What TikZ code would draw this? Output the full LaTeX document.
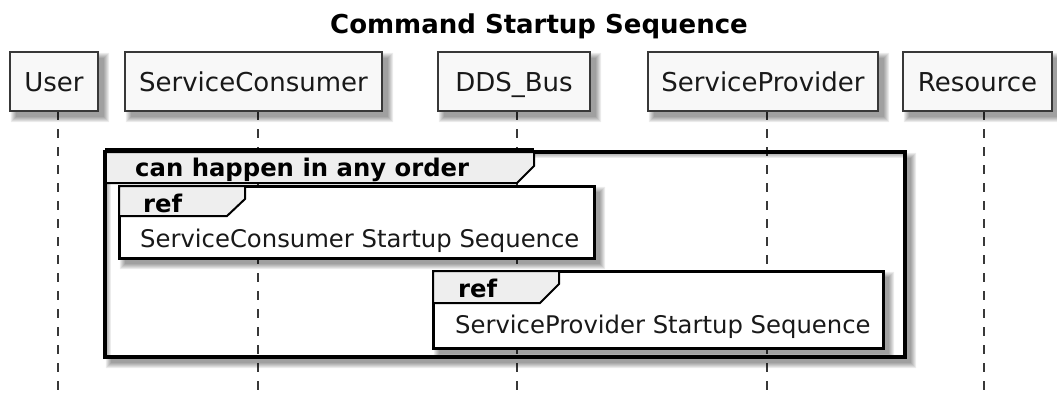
\documentclass[tikz,border=0pt]{standalone}
\usepackage{fontspec}
\setmainfont{DejaVu Sans}
\definecolor{partfill}{HTML}{F8F8F8}
\definecolor{partline}{HTML}{383838}
\definecolor{tabfill}{HTML}{EEEEEE}
\newcommand\softshadowof[1]{%
  \foreach \k in {0,1,2,3,4,5}{%
    \fill[black, opacity=0.075, even odd rule]
      ([shift={(6-\k,6-\k)}]#1.north west) rectangle ([shift={(6+\k,6+\k)}]#1.south east)
      (#1.north west) rectangle (#1.south east);
  }%
}
\tikzset{
  part/.style={draw=partline, fill=partfill, line width=2pt, inner sep=0pt, minimum height=59pt,
    text height=19pt, text depth=0pt,
    font=\fontsize{26}{30}\selectfont, text=black!90},
  lifeline/.style={draw=partline, line width=1.2pt, dash pattern=on 9pt off 9pt},
  grpframe/.style={draw=black, line width=4pt, inner sep=0pt},
  refbox/.style={draw=black, fill=white, line width=3pt, inner sep=0pt},
  tab/.style={draw=black, fill=tabfill, line width=2pt, line join=miter},
  hdr/.style={font=\fontsize{24.3}{28}\selectfont\bfseries, anchor=base west, inner sep=0pt},
  reftext/.style={font=\fontsize{24.3}{28}\selectfont, anchor=base west, inner sep=0pt, text=black!90},
}
\begin{document}
\begin{tikzpicture}[x=1pt, y=-1pt]
\useasboundingbox (0,0) rectangle (1057,394);
\node[font=\fontsize{26}{30}\selectfont\bfseries, anchor=base, inner sep=0pt] (title) at (539,33) {Command Startup Sequence};
% participants (placeholders for shadow geometry)
\node[inner sep=0pt, minimum height=59pt, minimum width=88pt] (user) at (54,81.5) {};
\node[inner sep=0pt, minimum height=59pt, minimum width=257pt] (sc) at (253.5,81.5) {};
\node[inner sep=0pt, minimum height=59pt, minimum width=152pt] (dds) at (514,81.5) {};
\node[inner sep=0pt, minimum height=59pt, minimum width=230pt] (sp) at (763,81.5) {};
\node[inner sep=0pt, minimum height=59pt, minimum width=149pt] (res) at (977.5,81.5) {};
% lifelines
\coordinate (userT) at (58,111); \coordinate (userB) at (58,394);
\coordinate (scT) at (258,111); \coordinate (scB) at (258,394);
\coordinate (ddsT) at (517,111); \coordinate (ddsB) at (517,394);
\coordinate (spT) at (767,111); \coordinate (spB) at (767,394);
\coordinate (resT) at (984,111); \coordinate (resB) at (984,394);
\draw[lifeline] (userT) -- (userB);
\draw[lifeline] (scT) -- (scB);
\draw[lifeline] (ddsT) -- (ddsB);
\draw[lifeline] (spT) -- (spB);
\draw[lifeline] (resT) -- (resB);
\foreach \n in {user,sc,dds,sp,res}{\softshadowof{\n}}
\node[part, minimum width=88pt] (userBox) at (user) {User};
\node[part, minimum width=257pt] (scBox) at (sc) {ServiceConsumer};
\node[part, minimum width=152pt] (ddsBox) at (dds) {DDS\_Bus};
\node[part, minimum width=230pt] (spBox) at (sp) {ServiceProvider};
\node[part, minimum width=149pt] (resBox) at (res) {Resource};
% group frame
\node[inner sep=0pt, minimum width=800pt, minimum height=205pt] (grp) at (505,254.5) {};
\softshadowof{grp}
\node[grpframe, minimum width=800pt, minimum height=205pt] (grpBox) at (grp) {};
\draw[tab] (105,152) -- (534,152) -- (534,166) -- (517,183) -- (105,183) -- cycle;
\draw[black, line width=4pt] (105,150) -- (534,150);
\draw[black, line width=4pt] (105,150) -- (105,185);
\node[hdr] (grplabel) at (135,176) {can happen in any order};
% ref 1
\node[inner sep=0pt, minimum width=475pt, minimum height=72pt] (ref1) at (356.5,222) {};
\softshadowof{ref1}
\node[refbox, minimum width=475pt, minimum height=72pt] (ref1Box) at (ref1) {};
\draw[tab] (119,186) -- (245,186) -- (245,199) -- (227,216) -- (119,216) -- cycle;
\node[hdr] (ref1h) at (143,212) {ref};
\node[reftext] (ref1t) at (140,247) {ServiceConsumer Startup Sequence};
% ref 2
\node[inner sep=0pt, minimum width=450pt, minimum height=77pt] (ref2) at (658,309.5) {};
\softshadowof{ref2}
\node[refbox, minimum width=450pt, minimum height=77pt] (ref2Box) at (ref2) {};
\draw[tab] (433,271) -- (559,271) -- (559,284) -- (540,303) -- (433,303) -- cycle;
\node[hdr] (ref2h) at (458,297) {ref};
\node[reftext] (ref2t) at (455,333) {ServiceProvider Startup Sequence};
\end{tikzpicture}
\end{document}
